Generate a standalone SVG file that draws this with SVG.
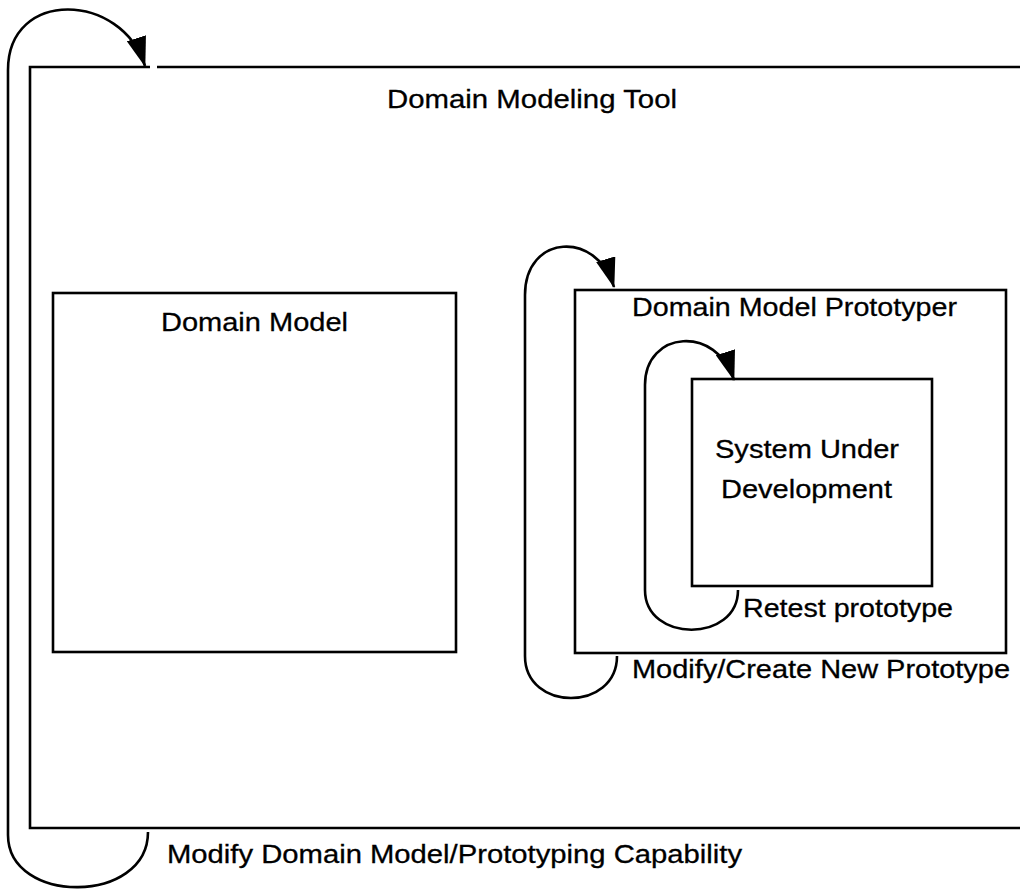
<svg xmlns="http://www.w3.org/2000/svg" width="1020" height="892" viewBox="0 0 1020 892">
<defs>
<style>
.box{fill:none;stroke:#000;stroke-width:2.6}
.loop{fill:none;stroke:#000;stroke-width:2.6}
.lbl{font-family:"Liberation Sans",Arial,Helvetica,sans-serif;font-size:26px;fill:#000;stroke:#000;stroke-width:0.3}
</style>
<marker id="ah" viewBox="0 0 30 20" refX="29" refY="10" markerWidth="30" markerHeight="20" markerUnits="userSpaceOnUse" orient="auto">
<path d="M0,0 L30,10 L0,20 Z" fill="#000"/>
</marker>
</defs>
<rect width="1020" height="892" fill="#fff"/>
<g id="domain-modeling-tool">
<path class="box" d="M150 67 L30 67 L30 828 L1024 828 M157 67 L1024 67"/>
<text class="lbl" x="387" y="108" textLength="290" lengthAdjust="spacingAndGlyphs">Domain Modeling Tool</text>
</g>
<g id="domain-model">
<rect class="box" x="53" y="293" width="403" height="359"/>
<text class="lbl" x="161" y="331" textLength="187" lengthAdjust="spacingAndGlyphs">Domain Model</text>
</g>
<g id="domain-model-prototyper">
<rect class="box" x="575" y="290" width="431" height="363"/>
<text class="lbl" x="632" y="316" textLength="325" lengthAdjust="spacingAndGlyphs">Domain Model Prototyper</text>
</g>
<g id="system-under-development">
<rect class="box" x="692" y="379" width="240" height="207"/>
<text class="lbl" x="715" y="458" textLength="184" lengthAdjust="spacingAndGlyphs">System Under</text>
<text class="lbl" x="721" y="498" textLength="171" lengthAdjust="spacingAndGlyphs">Development</text>
</g>
<g id="connectors">
<path class="loop" marker-end="url(#ah)" d="M148 832 C148 905 8 905 8 835 L8 70 C8 -12 122 -8 145 66"/>
<path class="loop" marker-end="url(#ah)" d="M617 656 C617 712 525 712 525 656 L525 295 C525 234 597 230 614 287"/>
<path class="loop" marker-end="url(#ah)" d="M738 590 C738 643 645 643 645 590 L645 385 C645 330 717 325 734 380"/>
<text class="lbl" x="167" y="863" textLength="575" lengthAdjust="spacingAndGlyphs">Modify Domain Model/Prototyping Capability</text>
<text class="lbl" x="632" y="678" textLength="378" lengthAdjust="spacingAndGlyphs">Modify/Create New Prototype</text>
<text class="lbl" x="743" y="617" textLength="210" lengthAdjust="spacingAndGlyphs">Retest prototype</text>
</g>
</svg>
